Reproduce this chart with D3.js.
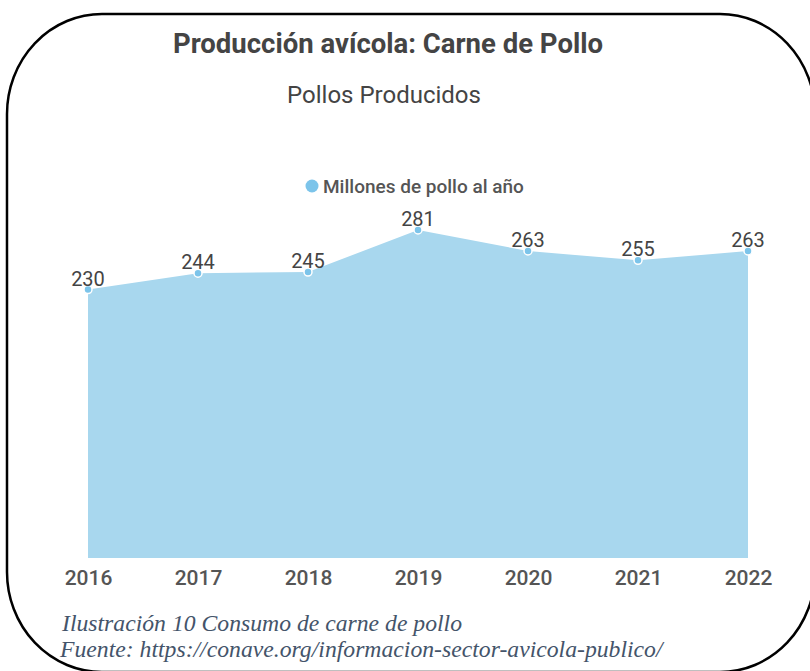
<!DOCTYPE html>
<html><head><meta charset="utf-8">
<script src="https://cdn.jsdelivr.net/npm/d3@7"></script>
<style>body{margin:0;background:#fff}svg{display:block}</style>
</head><body>
<script>
const years = ["2016","2017","2018","2019","2020","2021","2022"];
const values = [230,244,245,281,263,255,263];
const seriesName = "Millones de pollo al año";
const title = "Producción avícola: Carne de Pollo";
const subtitle = "Pollos Producidos";
const caption1 = "Ilustración 10 Consumo de carne de pollo";
const caption2 = "Fuente: https://conave.org/informacion-sector-avicola-publico/";

const W = 810, H = 671;
const svg = d3.select("body").append("svg").attr("width", W).attr("height", H);

// rounded frame
(function(){
  const l=7,r=815,t=14,b=672,rx=95,ry=100;
  const p=`M${l+rx},${t} L${r-rx},${t} A${rx},${ry} 0 0 1 ${r},${t+ry} L${r},${b-ry} A${rx},${ry} 0 0 1 ${r-rx},${b} L${l+rx},${b} A${rx},${ry} 0 0 1 ${l},${b-ry} L${l},${t+ry} A${rx},${ry} 0 0 1 ${l+rx},${t} Z`;
  svg.append("path").attr("d",p).attr("fill","none").attr("stroke","#000").attr("stroke-width",2.5);
})();

const font = "Roboto, 'Noto Sans', sans-serif";
svg.append("text").attr("x",388).attr("y",53).attr("text-anchor","middle")
  .attr("font-family",font).attr("font-weight","bold").attr("font-size",27.5).attr("fill","#444").text(title);
svg.append("text").attr("x",384).attr("y",103).attr("text-anchor","middle")
  .attr("font-family",font).attr("font-size",24).attr("fill","#444").text(subtitle);

// legend
svg.append("circle").attr("cx",312).attr("cy",186).attr("r",6.5).attr("fill","#7cc4ea");
svg.append("text").attr("x",323).attr("y",193).attr("font-family",font).attr("font-weight",500)
  .attr("font-size",19).attr("fill","#555").text(seriesName);

const x = d3.scalePoint().domain(years).range([88,748]);
const y = d3.scaleLinear().domain([0,281]).range([558,230]);

const area = d3.area().x((d,i)=>x(years[i])).y0(y(0)).y1(d=>y(d));
svg.append("path").datum(values).attr("d",area).attr("fill","#a8d7ee");

svg.selectAll("circle.pt").data(values).join("circle").attr("class","pt")
  .attr("cx",(d,i)=>x(years[i])).attr("cy",d=>y(d)).attr("r",4)
  .attr("fill","#7cc4ea").attr("stroke","#fff").attr("stroke-width",1.5);

svg.selectAll("text.lbl").data(values).join("text").attr("class","lbl")
  .attr("x",(d,i)=>x(years[i])).attr("y",d=>y(d)-4).attr("text-anchor","middle")
  .attr("font-family",font).attr("font-size",20).attr("fill","#444").text(d=>d);

// x axis
const xAxis = d3.axisBottom(x).tickSize(0).tickPadding(0);
const gx = svg.append("g").attr("transform","translate(0,585)").call(xAxis);
gx.select(".domain").remove();
gx.selectAll("text").attr("dy",0).attr("font-family",font).attr("font-weight",500)
  .attr("font-size",21).attr("fill","#555");

// caption
const serif = "'Liberation Serif', 'Times New Roman', serif";
svg.append("text").attr("x",62).attr("y",631).attr("font-family",serif)
  .attr("font-style","italic").attr("font-size",23.7).attr("fill","#44546a").text(caption1);
svg.append("text").attr("x",60).attr("y",657).attr("font-family",serif)
  .attr("font-style","italic").attr("font-size",23.7).attr("fill","#44546a").text(caption2);
</script>
</body></html>
